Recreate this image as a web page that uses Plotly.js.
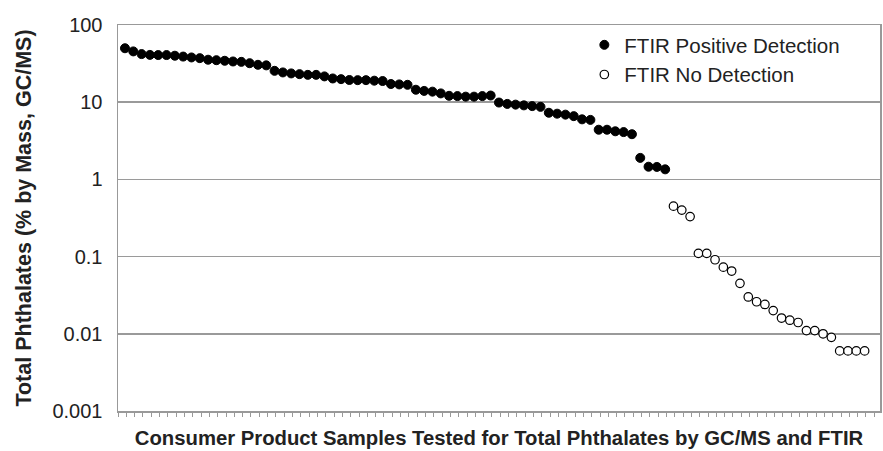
<!DOCTYPE html>
<html>
<head>
<meta charset="utf-8">
<script src="https://cdn.plot.ly/plotly-3.0.1.min.js"></script>
<style>html,body{margin:0;padding:0;background:#fff;}#chart{width:883px;height:451px;}</style>
</head>
<body>
<div id="chart"></div>
<script>
// Total phthalates (% by mass, GC/MS), samples sorted by decreasing value
const positiveValues = [50, 45.5, 42, 41, 40.8, 40.8, 40, 39, 38, 37.2,
  35.5, 35, 34.4, 33.7, 33.3, 32, 30.5, 30, 25.5, 24.3,
  23.6, 23.1, 22.6, 22.6, 21.6, 20.3, 19.9, 19.4, 19.3, 19.3,
  19, 18.8, 17.2, 17, 16.8, 14.5, 14, 13.7, 13, 12.1,
  12, 11.8, 11.8, 12, 12.2, 9.9, 9.5, 9.3, 9.1, 8.9,
  8.7, 7.3, 7.1, 6.9, 6.6, 6.0, 5.9, 4.4, 4.4, 4.2,
  4.1, 3.85, 1.9, 1.46, 1.45, 1.35];
const noDetectionValues = [0.45, 0.40, 0.33, 0.11, 0.11, 0.091, 0.073, 0.065, 0.045, 0.030,
  0.026, 0.024, 0.020, 0.016, 0.015, 0.014, 0.011, 0.011, 0.010, 0.009,
  0.006, 0.006, 0.006, 0.006];
const seriesNames = ["FTIR Positive Detection", "FTIR No Detection"];
const yTickVals = [0.001, 0.01, 0.1, 1, 10, 100];
const yTickText = ["0.001", "0.01", "0.1", "1", "10", "100"];

const xPos = positiveValues.map((v, i) => i + 1);
const xNo = noDetectionValues.map((v, i) => positiveValues.length + i + 1);

const traces = [
  {x: xPos, y: positiveValues, name: seriesNames[0], type: 'scatter', mode: 'markers',
   marker: {symbol: 'circle', size: 9, color: '#000', line: {color: '#000', width: 1}}},
  {x: xNo, y: noDetectionValues, name: seriesNames[1], type: 'scatter', mode: 'markers',
   marker: {symbol: 'circle', size: 8.5, color: '#fff', line: {color: '#000', width: 1.2}}}
];

const layout = {
  width: 883, height: 451,
  margin: {l: 118, r: 3, t: 25, b: 40, pad: 0},
  paper_bgcolor: '#fff', plot_bgcolor: '#fff',
  font: {family: 'Liberation Sans, Arial, sans-serif', color: '#222'},
  showlegend: true,
  legend: {x: 0.612, y: 1.0, xanchor: 'left', yanchor: 'top', bgcolor: 'rgba(0,0,0,0)',
           font: {size: 20.5, color: '#222'}, itemwidth: 30, tracegroupgap: 0},
  xaxis: {
    range: [0.16, 91.85], showgrid: false, zeroline: false,
    showline: true, linecolor: '#999', linewidth: 1.5, mirror: true,
    ticks: 'outside', ticklen: 4, tickcolor: '#999', tickwidth: 1,
    tick0: 0.16, dtick: 1, showticklabels: false,
    title: {text: '<b>Consumer Product Samples Tested for Total Phthalates by GC/MS and FTIR</b>',
            font: {size: 20.3, color: '#222'}, standoff: 15}
  },
  yaxis: {
    type: 'log', range: [-3, 2],
    tickvals: yTickVals, ticktext: yTickText,
    showgrid: true, gridcolor: '#9a9a9a', gridwidth: 1.5,
    zeroline: false, showline: true, linecolor: '#999', linewidth: 1.5, mirror: true,
    ticks: '', tickfont: {size: 20, color: '#222'}, ticklabelstandoff: 10,
    title: {text: '<b>Total Phthalates (% by Mass, GC/MS)</b>', font: {size: 21.5, color: '#222'}, standoff: 15}
  }
};

Plotly.newPlot('chart', traces, layout, {displayModeBar: false, staticPlot: true});
</script>
</body>
</html>
